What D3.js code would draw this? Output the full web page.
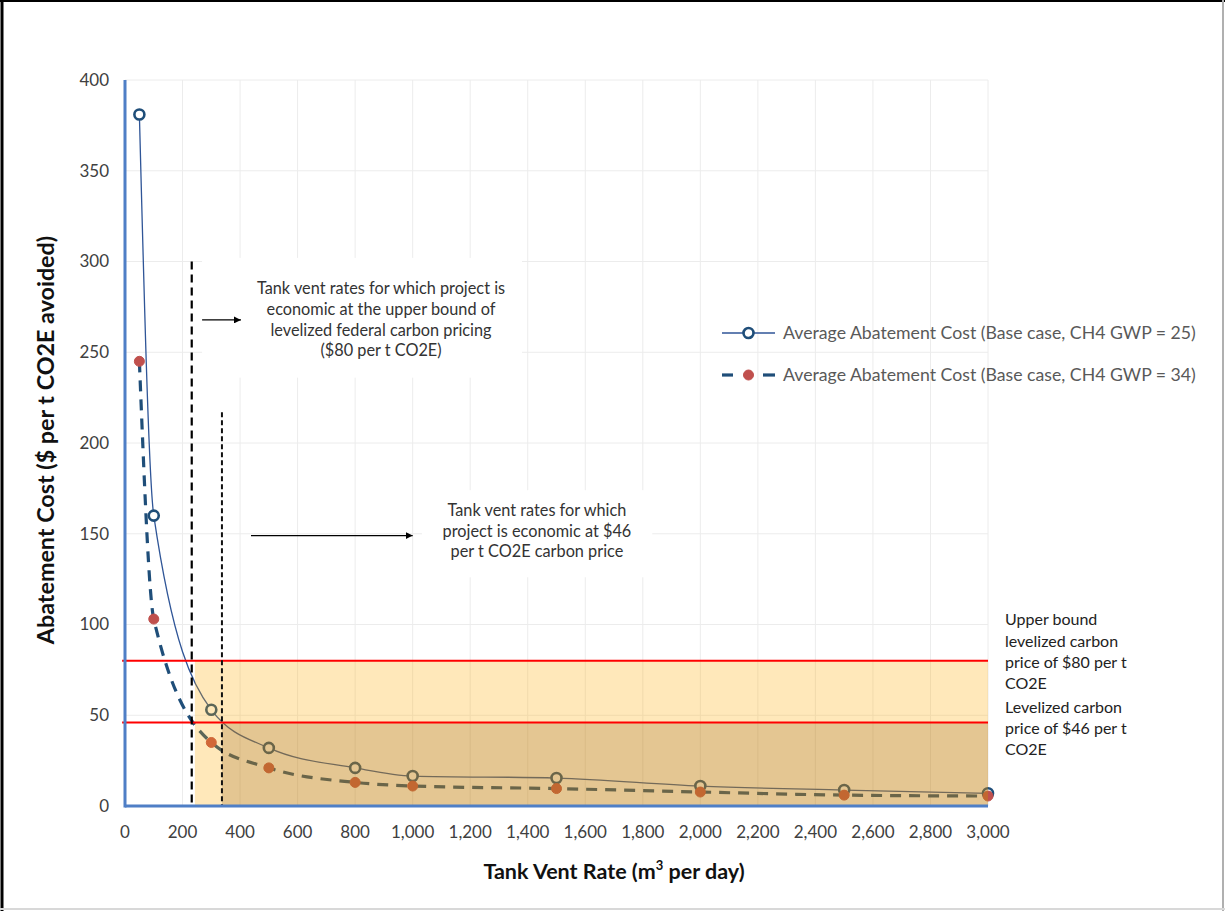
<!DOCTYPE html>
<html>
<head>
<meta charset="utf-8">
<script src="https://cdn.jsdelivr.net/npm/d3@7"></script>
<style>
  html, body { margin: 0; padding: 0; background: #fff; }
  svg { display: block; }
  text { font-family: Lato, "Open Sans", sans-serif; }
</style>
</head>
<body>
<script>
// ---------- data ----------
const ventRates = [50, 100, 300, 500, 800, 1000, 1500, 2000, 2500, 3000];
const costGWP25 = [381, 160, 53, 32, 21, 16.5, 15.4, 11, 8.8, 7];
const costGWP34 = [245, 103, 35, 21, 13, 11, 9.6, 7.7, 6, 5.5];
const seriesNames = [
  "Average Abatement Cost (Base case, CH4 GWP = 25)",
  "Average Abatement Cost (Base case, CH4 GWP = 34)"
];
const xTicks = d3.range(0, 3001, 200);
const yTicks = d3.range(0, 401, 50);
const carbonPrices = [80, 46];
const thresholdRates = [232, 337];      // vent rates where curves cross the prices
const thresholdTops = [300, 217];       // top of the dashed marker lines
const priceLabels = [
  ["Upper bound", "levelized carbon", "price of $80 per t", "CO2E"],
  ["Levelized carbon", "price of $46 per t", "CO2E"]
];
const noteTexts = [
  ["Tank vent rates for which project is", "economic at the upper bound of", "levelized federal carbon pricing", "($80 per t CO2E)"],
  ["Tank vent rates for which", "project is economic at $46", "per t CO2E carbon price"]
];

// ---------- layout ----------
const W = 1225, H = 911;
const svg = d3.select("body").append("svg").attr("width", W).attr("height", H);
const x = d3.scaleLinear().domain([0, 3000]).range([125, 988]);
const y = d3.scaleLinear().domain([0, 400]).range([806, 80]);

// outer frame
svg.append("line").attr("x1", 2).attr("x2", 2).attr("y1", 0).attr("y2", H).attr("stroke", "#000").attr("stroke-width", 3);
svg.append("line").attr("x1", 0).attr("x2", W).attr("y1", 1).attr("y2", 1).attr("stroke", "#000").attr("stroke-width", 2);
svg.append("line").attr("x1", W - 2).attr("x2", W - 2).attr("y1", 0).attr("y2", H).attr("stroke", "#b0b0b0").attr("stroke-width", 2);
svg.append("line").attr("x1", 0).attr("x2", W).attr("y1", H - 2).attr("y2", H - 2).attr("stroke", "#d8d8d8").attr("stroke-width", 2);

// gridlines
const grid = svg.append("g");
grid.selectAll(".vg").data(xTicks.filter(d => d > 0)).join("line")
  .attr("x1", d => x(d)).attr("x2", d => x(d)).attr("y1", y(400)).attr("y2", y(0))
  .attr("stroke", "#ececec").attr("stroke-width", 1);
grid.selectAll(".hg").data(yTicks.filter(d => d > 0)).join("line")
  .attr("x1", x(0)).attr("x2", x(3000)).attr("y1", d => y(d)).attr("y2", d => y(d))
  .attr("stroke", "#ececec").attr("stroke-width", 1);

// annotation boxes (white, cover gridlines)
const boxes = [
  {x0: 268, x1: 1380, y0: 302, y1: 236},
  {x0: 1032, x1: 1833, y0: 174, y1: 126}
];
svg.selectAll(".box").data(boxes).join("rect")
  .attr("x", d => x(d.x0)).attr("y", d => y(d.y0))
  .attr("width", d => x(d.x1) - x(d.x0)).attr("height", d => y(d.y1) - y(d.y0))
  .attr("fill", "#fff");

// data lines
const pts1 = ventRates.map((v, i) => [v, costGWP25[i]]);
const pts2 = ventRates.map((v, i) => [v, costGWP34[i]]);
const line = d3.line().x(d => x(d[0])).y(d => y(d[1])).curve(d3.curveMonotoneX);

svg.append("path").datum(pts1).attr("d", line)
  .attr("fill", "none").attr("stroke", "#2f5597").attr("stroke-width", 1.3);
svg.append("path").datum(pts2).attr("d", line)
  .attr("fill", "none").attr("stroke", "#1f4e79").attr("stroke-width", 3.2)
  .attr("stroke-dasharray", "11,8");

svg.selectAll(".m1").data(pts1).join("circle")
  .attr("cx", d => x(d[0])).attr("cy", d => y(d[1])).attr("r", 5)
  .attr("fill", "#fff").attr("stroke", "#1f4e79").attr("stroke-width", 2.6);
svg.selectAll(".m2").data(pts2).join("circle")
  .attr("cx", d => x(d[0])).attr("cy", d => y(d[1])).attr("r", 5)
  .attr("fill", "#c0504d").attr("stroke", "#c0504d").attr("stroke-width", 1);

// semi-transparent shaded zones (drawn over lines)
svg.append("rect")
  .attr("x", x(243)).attr("y", y(carbonPrices[0]))
  .attr("width", x(3000) - x(243)).attr("height", y(0) - y(carbonPrices[0]))
  .attr("fill", "rgb(255,170,0)").attr("fill-opacity", 0.27);
svg.append("rect")
  .attr("x", x(thresholdRates[1])).attr("y", y(carbonPrices[1]))
  .attr("width", x(3000) - x(thresholdRates[1])).attr("height", y(0) - y(carbonPrices[1]))
  .attr("fill", "rgb(150,100,30)").attr("fill-opacity", 0.26);

// red carbon price lines
svg.selectAll(".cp").data(carbonPrices).join("line")
  .attr("x1", x(-10)).attr("x2", x(3000)).attr("y1", d => y(d)).attr("y2", d => y(d))
  .attr("stroke", "#ff0000").attr("stroke-width", 2);

// vertical dashed threshold lines
svg.append("line").attr("x1", x(thresholdRates[0])).attr("x2", x(thresholdRates[0]))
  .attr("y1", y(thresholdTops[0])).attr("y2", y(0))
  .attr("stroke", "#000").attr("stroke-width", 2.2).attr("stroke-dasharray", "8,5");
svg.append("line").attr("x1", x(thresholdRates[1])).attr("x2", x(thresholdRates[1]))
  .attr("y1", y(thresholdTops[1])).attr("y2", y(0))
  .attr("stroke", "#111").attr("stroke-width", 2).attr("stroke-dasharray", "5,3");

// axes lines
svg.append("line").attr("x1", x(0)).attr("x2", x(0)).attr("y1", y(400)).attr("y2", y(0) + 1.5)
  .attr("stroke", "#4f7fc6").attr("stroke-width", 3);
svg.append("line").attr("x1", x(0)).attr("x2", x(3000)).attr("y1", y(0)).attr("y2", y(0))
  .attr("stroke", "#4f7fc6").attr("stroke-width", 3);

// tick labels
svg.selectAll(".yt").data(yTicks).join("text")
  .attr("x", x(0) - 16).attr("y", d => y(d)).attr("dy", "0.35em")
  .attr("text-anchor", "end").attr("font-size", 17).attr("fill", "#404040")
  .text(d => d);
svg.selectAll(".xt").data(xTicks).join("text")
  .attr("x", d => x(d)).attr("y", y(0) + 32)
  .attr("text-anchor", "middle").attr("font-size", 17).attr("fill", "#404040")
  .text(d => d3.format(",")(d));

// axis titles
const xt = svg.append("text").attr("x", 614).attr("y", 879)
  .attr("text-anchor", "middle").attr("font-size", 21.5).attr("font-weight", "bold").attr("fill", "#111");
xt.append("tspan").text("Tank Vent Rate (m");
xt.append("tspan").attr("font-size", 13).attr("dy", -9).text("3");
xt.append("tspan").attr("dy", 9).text(" per day)");
svg.append("text").attr("transform", "translate(54,440) rotate(-90)")
  .attr("text-anchor", "middle").attr("font-size", 23.3).attr("font-weight", "bold").attr("fill", "#111")
  .text("Abatement Cost ($ per t CO2E avoided)");

// annotation notes
const notes = [
  {cx: 890, top: 282, lines: noteTexts[0]},
  {cx: 1432, top: 159.8, lines: noteTexts[1]}
];
notes.forEach(n => {
  svg.append("g").selectAll("text").data(n.lines).join("text")
    .attr("x", x(n.cx)).attr("y", (d, i) => y(n.top) + i * 20.7)
    .attr("text-anchor", "middle").attr("font-size", 16.3).attr("fill", "#333")
    .text(d => d);
});

// arrows
svg.append("defs").append("marker").attr("id", "ah")
  .attr("viewBox", "0 0 10 10").attr("refX", 10).attr("refY", 5)
  .attr("markerWidth", 7).attr("markerHeight", 7).attr("markerUnits", "userSpaceOnUse")
  .attr("orient", "auto")
  .append("path").attr("d", "M0,0 L10,5 L0,10 z").attr("fill", "#000");
const arrows = [
  {x0: 268, x1: 403, yv: 267.8},
  {x0: 438, x1: 1000, yv: 149}
];
svg.selectAll(".arr").data(arrows).join("line")
  .attr("x1", d => x(d.x0)).attr("x2", d => x(d.x1))
  .attr("y1", d => y(d.yv)).attr("y2", d => y(d.yv))
  .attr("stroke", "#000").attr("stroke-width", 1.2).attr("marker-end", "url(#ah)");

// right-side price labels
const labelTops = [99.5, 51.3];
priceLabels.forEach((lines, k) => {
  svg.append("g").selectAll("text").data(lines).join("text")
    .attr("x", 1005).attr("y", (d, i) => y(labelTops[k]) + i * 21.3)
    .attr("font-size", 16).attr("fill", "#222")
    .text(d => d);
});

// legend
const lg = svg.append("g").attr("transform", "translate(722,333)");
lg.append("line").attr("x1", 0).attr("x2", 53).attr("y1", 0).attr("y2", 0)
  .attr("stroke", "#2f5597").attr("stroke-width", 1.3);
lg.append("circle").attr("cx", 26.5).attr("cy", 0).attr("r", 5)
  .attr("fill", "#fff").attr("stroke", "#1f4e79").attr("stroke-width", 2.6);
lg.append("text").attr("x", 61).attr("y", 0).attr("dy", "0.35em")
  .attr("font-size", 17.7).attr("fill", "#595959").text(seriesNames[0]);
const lg2 = svg.append("g").attr("transform", "translate(722,375)");
lg2.append("line").attr("x1", 0).attr("x2", 11).attr("y1", 0).attr("y2", 0)
  .attr("stroke", "#1f4e79").attr("stroke-width", 3.2);
lg2.append("line").attr("x1", 41).attr("x2", 53).attr("y1", 0).attr("y2", 0)
  .attr("stroke", "#1f4e79").attr("stroke-width", 3.2);
lg2.append("circle").attr("cx", 26.5).attr("cy", 0).attr("r", 5)
  .attr("fill", "#c0504d").attr("stroke", "#c0504d");
lg2.append("text").attr("x", 61).attr("y", 0).attr("dy", "0.35em")
  .attr("font-size", 17.7).attr("fill", "#595959").text(seriesNames[1]);
</script>
</body>
</html>
